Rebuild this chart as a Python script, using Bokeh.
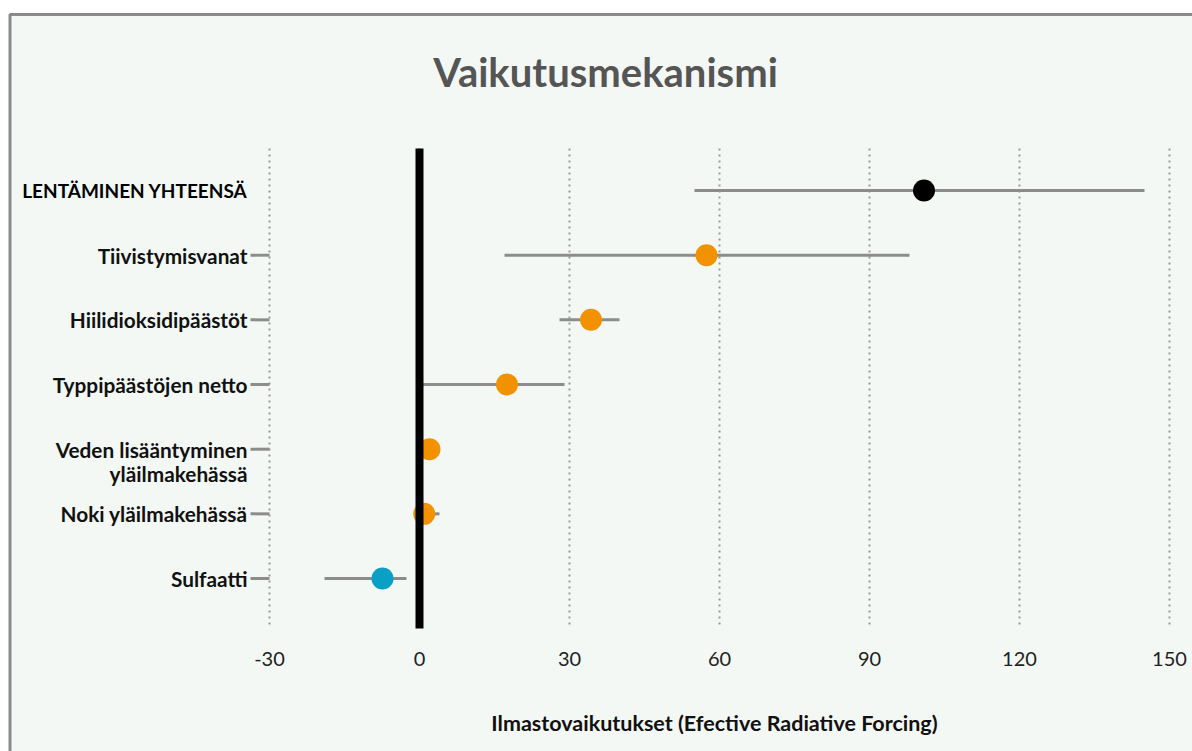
from math import pi
from bokeh.plotting import figure
from bokeh.models import Range1d, ColumnDataSource
from bokeh.core.properties import value
from bokeh.embed import file_html
from bokeh.resources import INLINE

# ---- data ----
categories = ["LENTÄMINEN YHTEENSÄ", "Tiivistymisvanat", "Hiilidioksidipäästöt",
              "Typpipäästöjen netto", "Veden lisääntyminen\nyläilmakehässä",
              "Noki yläilmakehässä", "Sulfaatti"]
best = [100.9, 57.4, 34.3, 17.5, 2.0, 0.94, -7.4]
low = [55.0, 17.0, 28.0, 0.6, 0.8, 0.1, -19.0]
high = [145.0, 98.0, 40.0, 29.0, 3.2, 4.0, -2.6]
groups = ["total", "warming", "warming", "warming", "warming", "warming", "cooling"]
tick_values = [-30, 0, 30, 60, 90, 120, 150]
tick_labels = ["-30", "0", "30", "60", "90", "120", "150"]
title_text = "Vaikutusmekanismi"
xlabel_text = "Ilmastovaikutukset (Efective Radiative Forcing)"

# ---- style / layout (pixels) ----
BG = "#f4f8f5"
GRAY = "#8c8c8c"
group_colors = {"total": "#000000", "warming": "#f39200", "cooling": "#0aa0c5"}
group_label_size = {"total": "19px", "warming": "20.8px", "cooling": "20.8px"}
group_label_color = {"total": "#000000", "warming": "#111111", "cooling": "#111111"}
FONT = value("Lato")

W, H = 1192, 751
FL, FR, FT, FB = 269, 1169, 148, 628      # plotting area in pixels
ROW0, ROWSTEP = 190, 64.67                # pixel of first row and row spacing
n = len(categories)
ys = list(range(n))

# linear mapping pixel -> data for a frame covering the whole canvas
xscale = (tick_values[-1] - tick_values[0]) / (FR - FL)
x_start = tick_values[0] - FL * xscale
x_end = tick_values[0] + (W - FL) * xscale
y_at_top = -ROW0 / ROWSTEP
y_at_bottom = (H - ROW0) / ROWSTEP


def px_x(px):
    return x_start + px * xscale


def px_y(py):
    return y_at_top + py / ROWSTEP


p = figure(width=W, height=H, output_backend="svg", toolbar_location=None,
           x_range=Range1d(x_start, x_end),
           y_range=Range1d(start=y_at_bottom, end=y_at_top),
           min_border=0, x_axis_location=None, y_axis_location=None)
p.background_fill_color = "white"
p.border_fill_color = "white"
p.outline_line_color = None
p.grid.visible = False

# chart panel with grey frame (left and top edges visible)
p.quad(left=[px_x(9.5)], right=[px_x(1400)], top=[px_y(14)], bottom=[px_y(1000)],
       fill_color=BG, line_color="#8a8a8a", line_width=3)

g_top, g_bot = px_y(FT), px_y(FB)

# vertical dotted grid lines
p.segment(x0=tick_values, y0=[g_top] * len(tick_values), x1=tick_values,
          y1=[g_bot] * len(tick_values), line_color="#999999", line_width=2,
          line_dash="2 4")

# tick marks for categories (not for the total row)
tick_rows = [i for i, g in zip(ys, groups) if g != "total"]
p.ray(x=[tick_values[0]] * len(tick_rows), y=tick_rows, length=19, length_units="screen",
      angle=pi, line_color=GRAY, line_width=3)

# error bars + points
src = ColumnDataSource(dict(y=ys, best=best, low=low, high=high,
                            color=[group_colors[g] for g in groups]))
p.segment(x0="low", y0="y", x1="high", y1="y", source=src, line_color=GRAY, line_width=3)
p.scatter(x="best", y="y", source=src, size=22, fill_color="color", line_color=None)

# zero line
p.segment(x0=[0], y0=[g_top], x1=[0], y1=[g_bot], line_color="black", line_width=8)

# category labels
lab = dict(x=[], y=[], text=[], off=[], size=[], color=[])
for i, (cat, g) in enumerate(zip(categories, groups)):
    for j, line in enumerate(cat.split("\n")):
        lab["x"].append(tick_values[0]); lab["y"].append(i); lab["text"].append(line)
        lab["off"].append(24 * j); lab["size"].append(group_label_size[g])
        lab["color"].append(group_label_color[g])
p.text(x="x", y="y", text="text", y_offset="off", x_offset=-22, source=ColumnDataSource(lab),
       text_align="right", text_baseline="middle", text_font=FONT, text_font_size="size",
       text_font_style="bold", text_color="color")

# x tick labels
p.text(x=tick_values, y=[px_y(658)] * len(tick_values), text=tick_labels,
       text_align="center", text_baseline="middle", text_font=FONT,
       text_font_size="20px", text_color="#222222")

# x axis title
p.text(x=[(tick_values[0] + tick_values[-1]) / 2 - 1], y=[px_y(722)], text=[xlabel_text],
       text_align="center", text_baseline="middle", text_font=FONT,
       text_font_size="21.5px", text_font_style="bold", text_color="#111111")

# chart title
p.text(x=[px_x(605)], y=[px_y(71)], text=[title_text], text_align="center",
       text_baseline="middle", text_font=FONT, text_font_size="40px",
       text_font_style="bold", text_color="#555555")

open("out.html", "w").write(file_html(p, INLINE))
